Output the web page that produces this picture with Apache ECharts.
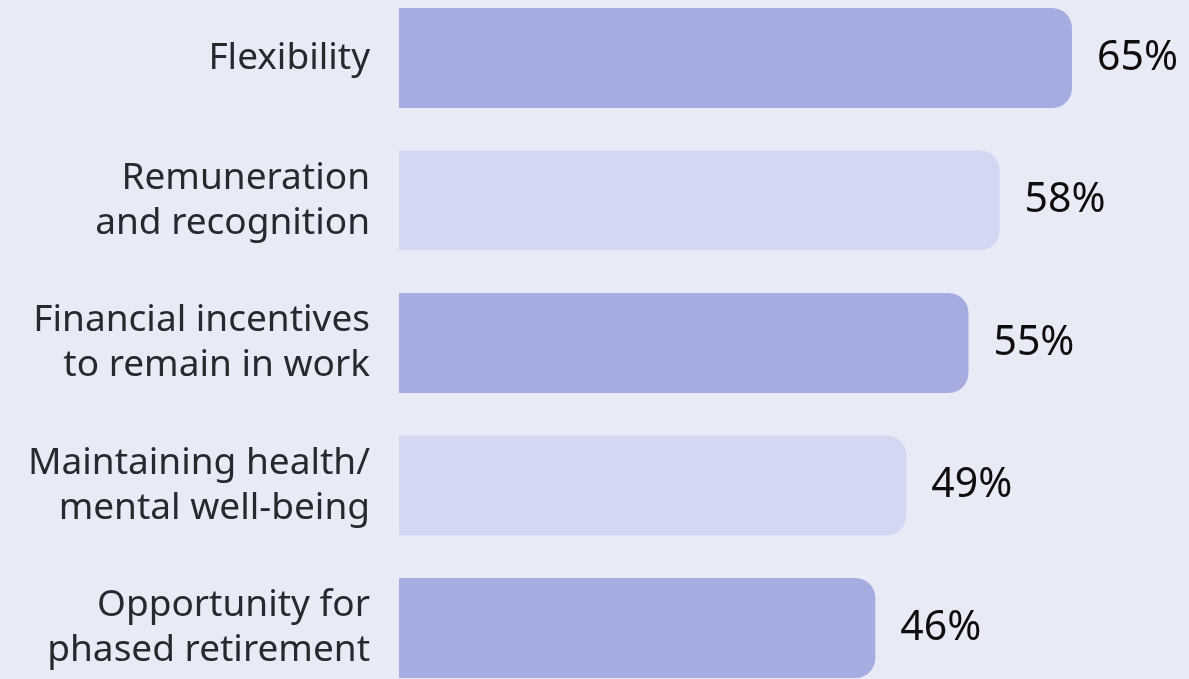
<!DOCTYPE html>
<html>
<head>
<meta charset="utf-8">
<script src="https://cdn.jsdelivr.net/npm/echarts@6/dist/echarts.min.js"></script>
<style>
html,body{margin:0;padding:0;background:#e8eaf6;}
#chart{width:1189px;height:679px;}
</style>
</head>
<body>
<div id="chart"></div>
<script>
const categories = [
  "Flexibility",
  "Remuneration\nand recognition",
  "Financial incentives\nto remain in work",
  "Maintaining health/\nmental well-being",
  "Opportunity for\nphased retirement"
];
const values = [65, 58, 55, 49, 46];
const barColors = ["#a5acdf", "#d3d7f1", "#a5acdf", "#d3d7f1", "#a5acdf"];

const chart = echarts.init(document.getElementById('chart'));
chart.setOption({
  backgroundColor: '#e8eaf6',
  animation: false,
  grid: { left: 399, right: 117, top: 58, bottom: 51, containLabel: false },
  xAxis: {
    type: 'value', min: 0, max: 65,
    show: false
  },
  yAxis: {
    type: 'category',
    data: categories,
    inverse: true,
    boundaryGap: false,
    axisLine: { show: false },
    axisTick: { show: false },
    splitLine: { show: false },
    axisLabel: {
      color: '#262930',
      fontFamily: 'Noto Sans',
      fontSize: 37,
      lineHeight: 45,
      margin: 29,
      align: 'right'
    }
  },
  series: [{
    type: 'bar',
    data: values.map((v, i) => ({ value: v, itemStyle: { color: barColors[i] } })),
    barWidth: 100,
    itemStyle: { borderRadius: [0, 20, 20, 0] },
    label: {
      show: true,
      position: 'right',
      distance: 25,
      formatter: '{c}%',
      color: '#0d0d0d',
      fontFamily: 'Noto Sans',
      fontSize: 41
    }
  }]
});
</script>
</body>
</html>
